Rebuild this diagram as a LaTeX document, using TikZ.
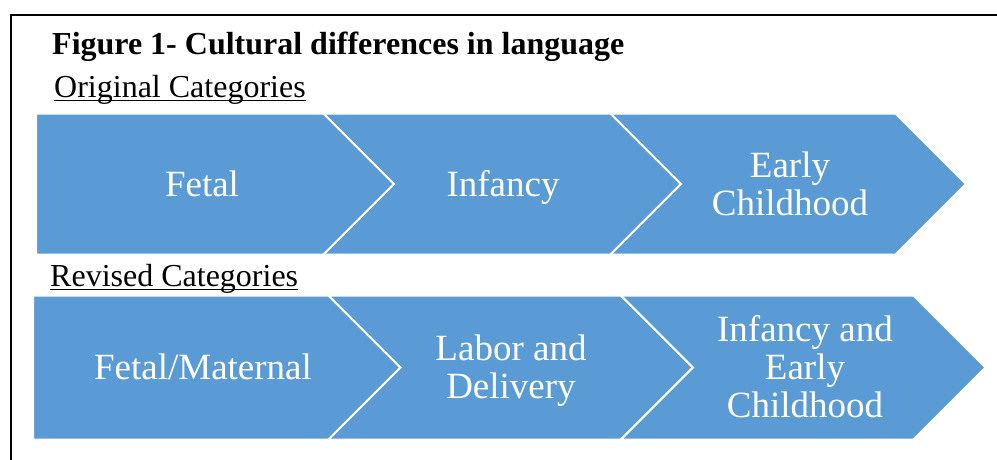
\documentclass[tikz,border=0pt]{standalone}
\usepackage{fontspec}
\setmainfont{Liberation Serif}
\definecolor{chev}{RGB}{91,155,213}
\begin{document}
\begin{tikzpicture}[x=1pt,y=-1pt,
  chevshape/.style={fill=chev,draw=white,line width=2pt,line join=miter},
  chevtext/.style={text=white,font=\fontsize{37}{38}\selectfont,align=center,inner sep=0pt},
  heading/.style={font=\fontsize{32}{38}\selectfont,inner sep=0pt,anchor=base west},
  uline/.style={line width=1.6pt},
]
\useasboundingbox (0,0) rectangle (997,459);

% outer frame (runs off the right and bottom edges)
\draw[line width=2pt] (10.5,480) -- (10.5,14.5) -- (1020,14.5);

% title and row headings
\node[heading,font=\fontsize{32}{38}\selectfont\bfseries] (title) at (52,54) {Figure 1- Cultural differences in language};
\node[heading] (orig) at (54,97) {Original Categories};
\draw[uline] ([yshift=-3.5pt]orig.base west) -- ([yshift=-3.5pt]orig.base east);
\node[heading] (rev) at (50,286) {Revised Categories};
\draw[uline] ([yshift=-3.5pt]rev.base west) -- ([yshift=-3.5pt]rev.base east);

% original categories: pentagon + two chevrons
\path[chevshape] (36,113.5) -- (323.5,113.5) -- (394,184) -- (323.5,254.5) -- (36,254.5) -- cycle;
\path[chevshape] (323.5,113.5) -- (610.5,113.5) -- (681,184) -- (610.5,254.5) -- (323.5,254.5) -- (394,184) -- cycle;
\path[chevshape] (610.5,113.5) -- (895.5,113.5) -- (966,184) -- (895.5,254.5) -- (610.5,254.5) -- (681,184) -- cycle;

\node[chevtext] (o1) at (202,188.4) {\strut Fetal};
\node[chevtext] (o2) at (503,188.4) {\strut Infancy};
\node[chevtext] (o3) at (790,188.4) {\strut Early\\\strut Childhood};

% revised categories: pentagon + two chevrons
\path[chevshape] (33,295.5) -- (328.5,295.5) -- (400.5,367.5) -- (328.5,439.5) -- (33,439.5) -- cycle;
\path[chevshape] (328.5,295.5) -- (621,295.5) -- (693,367.5) -- (621,439.5) -- (328.5,439.5) -- (400.5,367.5) -- cycle;
\path[chevshape] (621,295.5) -- (913.5,295.5) -- (985.5,367.5) -- (913.5,439.5) -- (621,439.5) -- (693,367.5) -- cycle;

\node[chevtext] (r1) at (203,371.4) {\strut Fetal/Maternal};
\node[chevtext] (r2) at (511,371.4) {\strut Labor and\\\strut Delivery};
\node[chevtext] (r3) at (805,371.4) {\strut Infancy and\\\strut Early\\\strut Childhood};
\end{tikzpicture}
\end{document}
